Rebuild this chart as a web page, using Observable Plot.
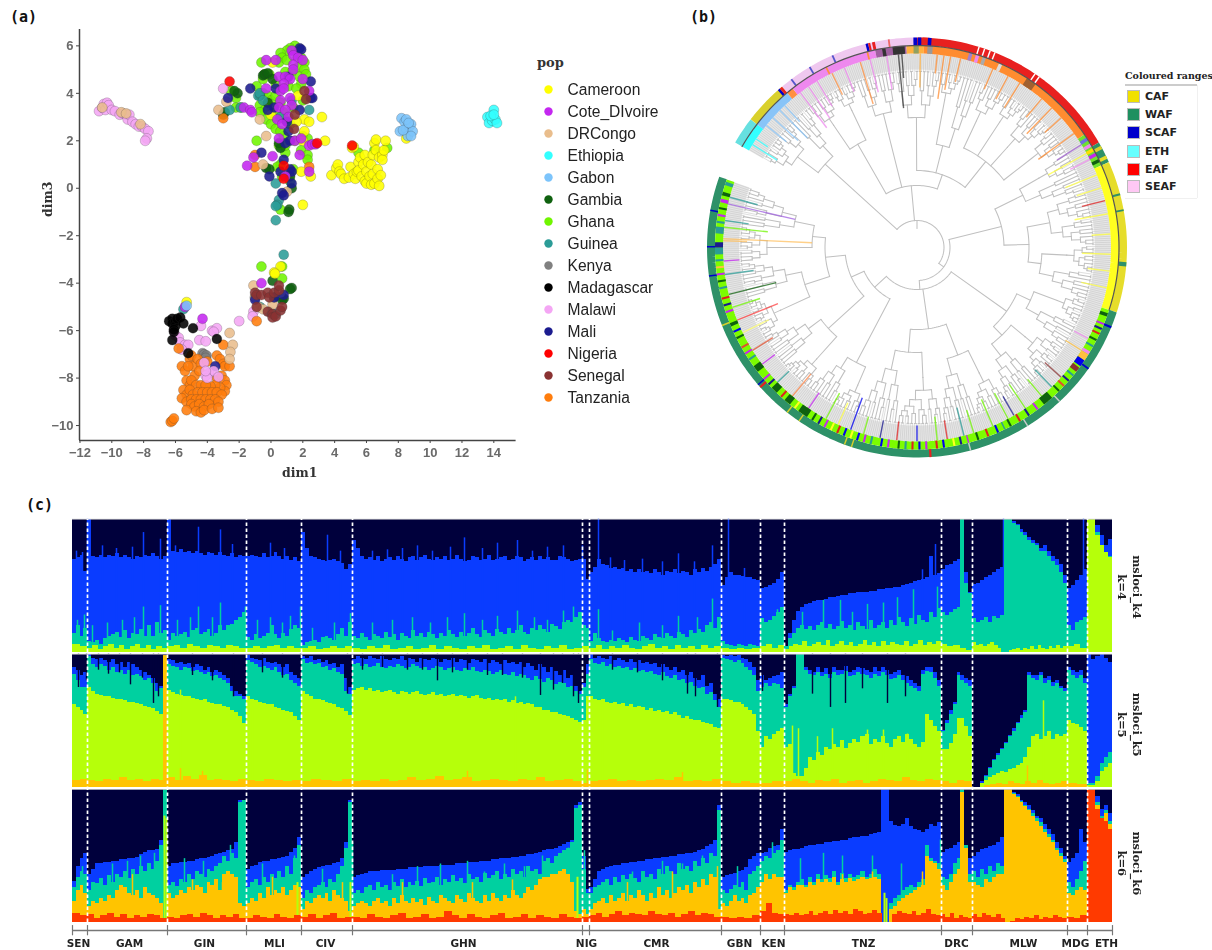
<!DOCTYPE html>
<html><head><meta charset="utf-8">
<script src="https://cdn.jsdelivr.net/npm/d3@7"></script>
<script src="https://cdn.jsdelivr.net/npm/@observablehq/plot@0.6"></script>
<style>
html,body{margin:0;padding:0;background:#fff;overflow:hidden}
#page{position:relative;width:1212px;height:950px;overflow:hidden}
.abs{position:absolute}
.tag{font:bold 15px "DejaVu Sans Mono",monospace;color:#111}
.lg{font:bold 11px "DejaVu Sans",sans-serif;color:#222;position:absolute}
.sw{position:absolute;width:13px;height:13px;border:1px solid #bbb;box-sizing:border-box}
svg{filter:blur(.4px)}
</style></head><body><div id="page"></div>
<script>
/* ---------- panel (a) values: [dim1, dim3] ---------- */
const popNames=["Cameroon","Cote_DIvoire","DRCongo","Ethiopia","Gabon","Gambia","Ghana","Guinea","Kenya","Madagascar","Malawi","Mali","Nigeria","Senegal","Tanzania"];
const popColors=["#ffff00","#c427f0","#e9bd8c","#33ffff","#7cc4fb","#0f610f","#70f500","#2b9c97","#808080","#000000","#f4a6f4","#1b1b8f","#ff0000","#8a3232","#ff7d0d"];
const ghana=[[1.5,6],[1.2,5.9],[1,5.8],[.6,5.7],[.7,5.5],[.5,5.3],[-.6,5.3],[1,5.4],[1.9,5.5],[2.1,5.3],[1.7,5.1],[2.1,5],[1.8,4.7],[1.3,4.9],[.9,4.9],[-.4,4.8],[-.5,4.6],[-.1,4.8],[-.9,4.3],[.3,4.4],[1.1,4.3],[1.9,4.4],[-.5,4],[-.2,3.9],[0,3.7],[.3,3.9],[.6,3.6],[-.7,3.5],[-.4,3.3],[-2.2,3.8],[-2.5,4.1],[-2.2,3.4],[-1.9,3.4],[.8,3.2],[1.4,3.4],[2,3.7],[-.3,2.9],[0,2.7],[.3,2.5],[.8,2.2],[1.2,2.7],[2,2.2],[2.3,2.1],[-.9,2],[.5,1.8],[.9,1.5],[1.9,1.6],[2.3,1.4],[2.3,1.2],[.6,1],[1.4,.8],[1.2,.3],[.6,-.9],[.7,-3.3],[.7,-3.8],[-.6,-3.3],[6.5,1.6],[7.3,1.7],[5.5,1.5],[.7,.5],[.1,3.4],[.9,2.9],[-.7,3.2],[1.5,2],[.6,2.4],[.9,1.8],[.4,.9],[.3,3],[1.6,4.2],[2.2,4.8]];
const gambia=[[-.5,4.75],[-.4,4.8],[-.2,4.85],[.1,4.6],[-.7,3.9],[-2.1,4],[-2.3,4.1],[-3,3.1],[-2.9,3.2],[-.2,3.6],[.5,1.9],[.6,1.7],[-.3,.85],[-.1,.8],[1.3,0],[1.15,-.9],[1.1,-1],[.1,-3.9],[1.3,-4.2],[1.2,-4.25],[.7,-4.7],[.2,-4.6],[.8,-4.65],[1.2,.5]];
const guinea=[[-.8,3.9],[-.7,4],[-.5,3.7],[-2.6,3.3],[-1.9,3.4],[2.4,3.3],[1.3,3.7],[.6,3],[.3,.2],[.5,-.5],[.4,-.7],[.3,-.75],[.3,-1.35],[.8,-2.8],[-1,-4.6],[-.7,-5],[.3,-5.3],[-.1,-5.2],[-5.5,-5.1]];
const cameroon=[[3.8,.55],[4.1,.85],[4.2,1],[4.3,.7],[4.4,.6],[4.6,.4],[4.9,.45],[5,.9],[5.1,1.7],[5.2,1.75],[5.2,.6],[5.3,.4],[5.4,.7],[5.5,1.1],[5.5,.75],[5.6,1.3],[5.7,.5],[5.8,1],[5.9,.3],[5.9,1.4],[6,.7],[6,.2],[6.1,1.1],[6.2,.5],[6.3,1],[6.3,.15],[6.4,1.4],[6.4,.6],[6.5,1.9],[6.5,.2],[6.6,1.6],[6.6,2.05],[6.7,.8],[6.7,.4],[6.8,1.3],[6.8,.1],[6.9,.55],[7,1.4],[7,1.2],[7.1,1.6],[7.2,2],[.1,5.3],[0,3.1],[2.1,2.9],[2.4,2.8],[3.2,3],[3.4,2],[2,2],[1.9,.7],[2.5,.5],[1.6,2.8],[2.1,2.4],[2,-.7],[.6,-3.3],[.2,-3.55],[.25,-3.6],[-5.3,-4.8],[1.7,3.9],[8.5,2.1]];
const drc=[[-10.6,3.4],[-9.4,3.2],[-9.1,3.15],[-8.2,2.7],[-3.3,3.3],[-2.8,3.65],[-.7,2.9],[-.3,2.2],[-.5,1],[1,-.15],[-1.1,-4.1],[.6,-4.4],[-1,-4.6],[-.8,-5],[-.5,-5.1],[.1,-4.9],[-2.6,-6.1],[-2.4,-6.6],[-2.55,-6.9],[-2.6,-7.2]];
const mali=[[1.8,5.9],[1.9,5.85],[2.5,4.5],[-1.3,4.2],[.3,4.2],[2.5,3.8],[2.6,3.8],[-2.7,3.8],[.2,3.4],[-.2,3.3],[1.8,3.3],[1,2.8],[1.1,2.4],[1.2,2],[.9,1.9],[-.6,1.5],[.8,1.2],[1.2,.8],[.6,.7],[1.3,.7],[-.1,.5],[1.3,.2],[.7,-.2],[.8,-.3],[1.1,4.7],[-1,-4.7],[.8,-4.5],[-3.5,-7.5],[.2,-4.6]];
const cote=[[-.3,5.4],[.3,5.4],[1.3,5.8],[1.4,5.6],[1.7,5.5],[2,5.4],[1.4,5.2],[1.4,5],[.5,4.7],[.9,4.7],[1.2,4.6],[.8,4.4],[2,4.6],[-.3,4.2],[.6,4.1],[.8,4.2],[2.4,4.1],[.6,3.7],[1.2,3.8],[1.3,3.5],[.5,3.4],[.9,3.3],[1.1,3],[-1.7,3.4],[-1.3,3.3],[-1.2,3.2],[.4,2.9],[.7,2.7],[.5,2.1],[1.5,2],[1.9,2.1],[2.4,1.8],[2.6,1.85],[2.8,1.85],[-1.1,1.3],[.1,1.35],[1.8,1.4],[-1.5,.95],[.9,.5],[2.4,.7],[-4.3,-5.5],[-5.4,-5],[-.6,-4]];
const senegal=[[2.1,4.1],[2.2,3.75],[1.5,3.1],[1.45,2.5],[-1,-4.4],[-.9,-4.5],[-.6,-4.5],[-.2,-4.4],[-.1,-4.6],[.2,-4.4],[.5,-4.3],[.5,-4.1],[-.9,-5],[-.2,-5.2],[.1,-5.3],[.1,-5.45],[.3,-5.4],[.6,-5.15],[.7,-5]];
const madagascar=[[-6.4,-5.6],[-6.2,-5.5],[-6.2,-5.7],[-6,-5.6],[-6,-5.8],[-5.9,-5.5],[-5.7,-5.45],[-5.5,-5.7],[-6.1,-5.95],[-6.1,-6.05],[-6.2,-6.4],[-4.9,-5.9],[-3.4,-6.35],[-5.2,-6.95]];
const malawi=[[-10.8,3.25],[-10.6,3.4],[-10.5,3.55],[-10.4,3.3],[-10.3,3.6],[-10.2,3.5],[-10,3.3],[-9.8,3.25],[-9.5,3.1],[-9.3,3.15],[-9.1,3.1],[-9,2.9],[-8.9,3.1],[-8.7,2.8],[-8.5,2.7],[-8.3,2.6],[-8.1,2.6],[-7.9,2.5],[-7.7,2.4],[-7.8,2.1],[-7.9,2],[-3,4.2],[-6.1,-6],[-6,-6.2],[-5.8,-6.3],[-5.7,-6.5],[-5.4,-6.6],[-5.2,-6.6],[-5.6,-6.8],[-4.4,-5.8],[-4.5,-6.4],[-4.1,-6.45],[-3.7,-6],[-3.4,-5.9],[-3.6,-6.05],[-2,-5.6],[-1.1,-5.2],[-1.15,-5.4]];
const gabon=[[8.1,2.4],[8.2,2.95],[8.4,2.8],[8.5,2.5],[8.6,2.2],[8.7,2.6],[8.8,2.7],[8.9,2.4],[8.8,2.2],[8.5,2.9],[8.3,2.45],[8.65,2.75],[-5.3,-4.95]];
const ethiopia=[[13.6,3],[13.7,2.75],[13.9,2.85],[14,3.3],[14.1,2.9],[14.2,2.75],[13.8,3.05],[14,3.1]];
const kenya=[[-4.3,-6.95],[-4.2,-7],[-4.05,-7.05],[-4.1,-7.15]];
const nigeria=[[-2.6,4.5],[.8,.95],[2.9,1.9],[5.1,1.8],[.8,.4]];
const tanzania=[[-3,2.95],[-1,.9],[-1,1.4],[2.4,.9],[-.9,-5.6],[-3,-6.6],[-5.8,-6.75],[-5.1,-7.2],[-5,-7.05],[-4.9,-7.5],[-4.6,-7.2],[-4.4,-7.4],[-4,-7.3],[-3.4,-7.05],[-3.2,-7.2],[-3,-7.4],[-2.9,-7.5],[-2.6,-7.5],[-5.6,-7.5],[-5.4,-7.7],[-5.2,-7.5],[-4.8,-7.9],[-4.5,-7.7],[-5.3,-8.1],[-5.1,-8.3],[-5,-8.1],[-4.7,-8.3],[-4.4,-8.3],[-3.4,-8],[-3.1,-7.9],[-2.9,-8.1],[-2.8,-8.3],[-2.9,-8.55],[-3.2,-8.4],[-3.5,-8.3],[-3.8,-8.35],[-4.1,-8.3],[-5.5,-8.5],[-5.3,-8.7],[-5.1,-8.5],[-4.9,-8.7],[-4.6,-8.6],[-4.3,-8.6],[-4,-8.6],[-3.7,-8.6],[-3.4,-8.6],[-3.1,-8.7],[-5.6,-8.85],[-5.3,-9],[-5,-8.9],[-4.7,-8.9],[-4.4,-8.9],[-4.1,-8.9],[-3.8,-8.9],[-3.5,-8.9],[-3.3,-9],[-5,-9.1],[-4.8,-9.2],[-4.5,-9.1],[-4.2,-9.2],[-3.9,-9.1],[-5.3,-9.35],[-4.7,-9.4],[-4.4,-9.45],[-4.2,-9.35],[-3.7,-9.3],[-3.3,-9.25],[-6.3,-9.85],[-6.2,-9.8],[-6.1,-9.7]];
const malawiLate=[[-4.2,-7.35],[-3.9,-7.8],[-3.6,-7.7],[-4.1,-7.9],[-3.3,-7.95],[-4,-8],[-4.1,-7.7]];
const scatterOrder=[["Ghana",ghana],["Gambia",gambia],["Guinea",guinea],["Kenya",kenya],["Malawi",malawi],["Tanzania",tanzania],["Madagascar",madagascar],["Cameroon",cameroon],["DRCongo",drc],["Mali",mali],["Cote_DIvoire",cote],["Senegal",senegal],["Nigeria",nigeria],["Gabon",gabon],["Ethiopia",ethiopia],["Malawi",malawiLate]];

/* ---------- panel (b) values ---------- */
const treeSpec=[27,
 [124,[150,14,10],12],
 [62,[119,[148,16],[152,14]],[138,12,10],
   [77,[130,13,12],[105,[150,12],11],[110,[140,15],[150,12],[135,18],[145,15]]]],
 [33,
   [87,[118,[140,11],12],[112,[135,15,15],[125,[150,15],15]]],
   [42,
     [110,[125,[150,14],14],[122,[140,22],20]],
     [82,[115,[140,18],19],[105,[130,25],22]],
     [58,[130,[150,15],15],
       [72,[120,[150,18],19],
         [92,[118,[150,22],20],[105,[140,20],21]]]]]]];
const angleStart=-60, angleEnd=289.7;
const outerRanges=[[-60,-52.4,"#66e0e0"],[-52.4,-40,"#d9d02c"],[-40,0,"#efc8ef"],[0,60,"#e8201f"],[60,66,"#2e9168"],[66,108,"#e6dd2b"],[108,289.7,"#2e9168"]];
const outerMarks=[[-41.5,-40.8,"#0000cc"],[-40.8,-40,"#e8201f"],[-37,-36.5,"#5555cc"],[-31,-30.5,"#5555cc"],[-24,-23.5,"#5555cc"],[-14.2,-13.5,"#0000cc"],[-13.5,-12.9,"#e8201f"],[-12.4,-11.6,"#e8201f"],[-8,-7.5,"#ee6666"],[-1,0,"#0000cc"],[.2,1.2,"#0000cc"],[1.5,3,"#e8201f"],[3,4,"#0000cc"],[17,17.4,"#fff"],[18.6,19,"#fff"],[20.2,20.6,"#fff"],[21.6,22,"#fff"],[34,34.4,"#fff"],[35.4,35.8,"#fff"],[61,62,"#d9d02c"],[64,65,"#e6dd2b"],[75,75.6,"#2e9168"],[79.5,80,"#2e9168"],[94,95.2,"#2e9168"],[112,112.6,"#0000cc"],[125,125.5,"#0000cc"],[137,137.4,"#ccc"],[148,148.4,"#ccc"],[165,165.4,"#ccc"],[176,176.6,"#e8201f"],[198,198.4,"#d9d02c"],[200,200.4,"#d9d02c"],[214,214.4,"#d9d02c"],[218,218.4,"#d9d02c"],[228,228.6,"#e8201f"],[229,229.4,"#0000cc"],[248,248.4,"#d9d02c"],[262,262.4,"#0000cc"],[270,270.4,"#0000cc"],[280,280.4,"#0000cc"]];
const innerRanges=[[-60,-52.4,"#33ffff"],[-52.4,-40,"#88c4f8"],[-40,-38,"#ff9040"],[-38,-12,"#ee88ee"],[-12,-3,"#a060a0"],[-3,2,"#ffb040"],[2,56,"#ff8c30"],[56,66,"#70e030"],[66,108,"#ffff20"],[108,289.7,"#7cfc00"]];
const innerMarks=[[-27,-26.5,"#ff9040"],[-14.5,-14,"#ff9040"],[-10,-9,"#333"],[-7,-3.5,"#333"],[-1,.5,"#90a060"],[3,4.5,"#999"],[15,16,"#a080d0"],[17,18,"#ee88ee"],[19,20,"#aaa"],[24,25,"#ddd"],[33,36,"#a06030"],[57,58,"#7070e0"],[59,60,"#ee88ee"],[60.5,61.5,"#ffdd00"],[62,63,"#c427f0"],[64,65,"#0f610f"],[109,110,"#0f610f"],[112,112.6,"#c427f0"],[113.5,114.1,"#1b1b8f"],[115,115.6,"#e02020"],[117,117.6,"#0f610f"],[119,119.6,"#2b9c97"],[121,122,"#ee88ee"],[122,124,"#ffc040"],[124,126,"#0000ee"],[126.5,128,"#8a3232"],[129,129.6,"#2b9c97"],[131,131.6,"#1b1b8f"],[133,133.6,"#e05030"],[135,135.6,"#0f610f"],[138,141,"#0f610f"],[143,143.6,"#c427f0"],[146,146.6,"#1b1b8f"],[149,149.6,"#e02020"],[152,152.6,"#0f610f"],[154,154.4,"#2b9c97"],[156,156.6,"#0000ee"],[159,159.6,"#e02020"],[162,162.6,"#0f610f"],[165,165.4,"#c427f0"],[167,167.6,"#1b1b8f"],[169,169.6,"#ffff20"],[172,172.6,"#0000ee"],[174,174.6,"#e02020"],[177,177.6,"#c427f0"],[179,179.6,"#0000ee"],[181,181.6,"#e02020"],[183,183.6,"#2b9c97"],[185,185.6,"#0f610f"],[188,188.6,"#c427f0"],[190,190.6,"#0000ee"],[193,193.6,"#2b9c97"],[195,195.6,"#c427f0"],[197,197.6,"#0000ee"],[199,199.6,"#ffff20"],[201,201.6,"#0000ee"],[203,203.6,"#e02020"],[205,205.6,"#ffff20"],[207,207.6,"#c427f0"],[209,209.6,"#1b1b8f"],[211,211.6,"#0f610f"],[213,216,"#0f610f"],[217,217.6,"#ffff20"],[219,221,"#0f610f"],[222,222.6,"#e02020"],[224,226,"#0f610f"],[227,227.6,"#1b1b8f"],[229,229.6,"#c427f0"],[232,234,"#0f610f"],[236,236.6,"#2b9c97"],[238,238.6,"#c427f0"],[240,240.6,"#e05030"],[243,243.6,"#0f610f"],[245,245.6,"#0000ee"],[247,248,"#0f610f"],[251,251.6,"#c427f0"],[253,253.6,"#1b1b8f"],[255,255.6,"#e02020"],[258,258.6,"#2b9c97"],[260,260.6,"#0f610f"],[262,262.6,"#c427f0"],[264,264.6,"#ffc040"],[266,266.6,"#2b9c97"],[268,270,"#2b9c97"],[270,271.5,"#1b1b8f"],[274,276,"#2b9c97"],[277,277.6,"#2b9c97"],[279,279.6,"#c427f0"],[281,281.6,"#0f610f"],[283,284,"#c427f0"],[285,286,"#0f610f"],[288,289,"#2b9c97"]];
/* [angle, inner radius, colour] of coloured tip branches */
const colouredTips=[[-58,165,"#33ffff"],[-56,180,"#33ffff"],[-51,168,"#88c4f8"],[-48,160,"#88c4f8"],[-45,155,"#88c4f8"],[-43,172,"#88c4f8"],[-37,150,"#ee88ee"],[-34,156,"#ee88ee"],[-31,165,"#ee88ee"],[-26,170,"#ff9040"],[-22,168,"#ee88ee"],[-17,150,"#ff9040"],[-14,160,"#ee88ee"],[-9,160,"#ee88ee"],[-5.5,140,"#333"],[-4.5,170,"#333"],[1,160,"#ffb040"],[6,175,"#ff8c30"],[8,150,"#ff8c30"],[10,160,"#ff8c30"],[13,170,"#ff8c30"],[23,172,"#ff8c30"],[28,168,"#ff8c30"],[32,165,"#ff8c30"],[40,170,"#ff8c30"],[44,158,"#ff8c30"],[48,172,"#ff8c30"],[54,150,"#ff8c30"],[58,165,"#a060d0"],[61,150,"#ffff40"],[63,172,"#ee88ee"],[68,160,"#ffff40"],[72,168,"#ffff40"],[76,170,"#e02020"],[80,160,"#ffff40"],[86,175,"#ffff40"],[92,165,"#ffff40"],[97,172,"#ffff40"],[102,168,"#ffff40"],[118,178,"#ee88ee"],[122,175,"#ffc040"],[132,172,"#8a3232"],[136,170,"#2b9c97"],[140,172,"#70f500"],[146,165,"#70f500"],[150,172,"#1b1b8f"],[152,165,"#70f500"],[157,165,"#70f500"],[163,170,"#70f500"],[166,165,"#2b9c97"],[171,175,"#e02020"],[174,170,"#70f500"],[180,178,"#0000ee"],[186,175,"#e02020"],[191,176,"#1b1b8f"],[196,176,"#70f500"],[200,160,"#0000ee"],[204,170,"#ffff40"],[208,165,"#70f500"],[214,175,"#c427f0"],[220,165,"#ff8040"],[226,178,"#2b9c97"],[233,178,"#c427f0"],[238,170,"#e05030"],[244,165,"#ffff70"],[248,150,"#ff4040"],[252,165,"#70f500"],[256,145,"#0f610f"],[262,165,"#2b9c97"],[266,178,"#c427f0"],[272,170,"#ffc060"],[272.6,105,"#ffc060"],[276,150,"#70f500"],[278,170,"#2b9c97"],[283,125,"#a060e0"],[285,165,"#2b9c97"]];

/* ---------- panel (c) values: percent of bar height, one list per population ---------- */
const stackPops=["SEN","GAM","GIN","MLI","CIV","GHN","NIG","CMR","GBN","KEN","TNZ","DRC","MLW","MDG","ETH"];
const stackWidths=[15,80,79,55,51,230,7,132,39,24,157,31,95,20,25];
const stackLabelAt=[6,57,132,202,253,391,514,584,667,701,791,884,951,1003,1034];
const clusterColors={navy:"#00003c",blue:"#0a3cff",teal:"#00d0a0",lime:"#b6ff0a",orange:"#ffc400",red:"#ff3a00"};
const k4Blue=[[70,71,73,61],[100,72,71,73,71,73,72,74,71,73,71,70,72,71,73,72,74,72,70,72],[100,76,75,77,75,76,74,76,74,73,75,74,73,75,73,72,74,71,73,72],[72,73,72,71,74,71,72,75,72,70,72,69,71,68],[90,78,72,71,70,69,68,69,70,68,67,62,66],[84,78,72,70,71,69,72,68,70,71,69,72,70,68,71,72,69,71,73,70,69,71,70,72,69,70,73,70,68,69,72,71,69,70,73,69,70,71,72,69,70,72,71,68,70,71,69,72,70,71,69,69,72,71,70,68,69,70],[70,55],[60,64,70,66,65,63,64,62,63,61,62,60,62,60,61,59,62,60,58,61,60,62,59,61,60,58,62,60,63,61,64,66,70],[50,56,60,58,58,57,56,56,55,54],[48,49,50,52,55,60],[4,14,24,31,34,36,37,38,39,39,40,41,41,42,43,43,44,44,45,45,45,46,46,47,47,48,48,49,49,50,51,52,53,54,55,56,72,58,59],[62,65,66,68,70,100,60,45],[51,52,54,56,58,60,62,64,100,100,98,96,92,90,86,84,82,78,80,76,72,70,66,58],[48,50,54,58,62],[100,100,95,88,80,85]];
const k4Teal=[[14,20,12,18],[8,7,9,6,10,12,13,15,11,16,10,14,13,17,12,20,12,22,14,16],[9,14,12,13,15,11,16,18,13,15,17,12,14,20,16,20,21,24,26,30],[11,9,13,10,12,14,20,13,10,14,12,17,20,18],[5,7,8,9,7,11,12,10,9,13,18,12,22],[12,10,14,11,9,13,12,10,15,11,13,9,14,12,10,16,12,14,11,15,13,10,14,12,16,13,11,15,12,14,18,13,11,16,14,12,17,15,13,18,14,16,20,15,13,18,16,20,17,15,21,19,17,22,24,22,26,30],[20,18],[8,14,10,8,7,9,8,10,9,7,11,9,8,12,10,9,13,11,10,14,12,10,15,13,11,16,14,17,15,20,22,18,26],[8,6,5,4,6,5,4,6,5,4],[25,22,24,27,30,34],[4,10,14,18,20,17,19,16,20,22,18,21,17,19,23,18,20,16,22,19,17,24,18,20,22,18,24,20,26,22,19,25,21,28,24,22,30,26,33],[30,28,30,32,34,100,52,44],[25,22,24,26,22,27,25,28,100,100,97,95,90,88,84,82,80,76,76,72,68,65,60,52],[20,16,22,24,26],[100,100,90,80,75,72]];
const k4Lime=[[6,4],[3,5,2,4,6,3,5,2,4,6,3,5,2,4,3],[4,5,3,6,4,3,5,4,3,5,4,3],[3,4,3,4,5,3,4,3],[3,4,2,3,4,3,4],[3,2,4,3,5,2,3,4,2,3,5,2,4,3,2,4,3,5,2,3,4,2,5,3,2,4,3,5,2,3],[4],[3,5,2,4,3,5,3,2,4,6,3,4,2,5,3,4,2,5,3,4],[3,2,3,2,3],[4,6,3,5],[2,4,6,5,8,4,6,7,5,9,4,6,8,5,7,4,6,9,5,7,4,8,5,7,6,5,8,4,6,9,5,7,6,8],[6,4,5,3,1],[7,5,6,4,6,7,5,3,0,0,1,2,3,1,3,2,4,2,5,3,2,4,3,5,3,4],[4,6,3],[100,100,88,80,75,71]];
const k5Blue=[[90,88,84,86],[100,97,96,97,95,94,96,92,94,90,94,92,90,88,86,84,82,78,76,99],[96,95,93,94,92,93,90,92,91,88,90,86,88,86,84,82,76,72,70,68],[99,97,96,95,97,94,93,94,92,90,92,86,84,82],[98,97,98,95,96,94,95,92,93,90,92,82,75],[96,98,97,96,98,97,96,98,96,95,97,96,98,95,97,96,94,97,96,95,97,96,94,96,95,97,94,96,95,93,96,95,94,96,93,95,94,92,95,93,94,92,94,90,93,91,88,92,90,86,90,87,84,88,82,84,76,72],[78,92],[100,97,98,97,96,98,95,97,95,94,96,94,95,93,94,92,93,90,92,90,88,90,86,88,84,86,82,80,84,76,78,70,66],[99,98,99,98,99,97,96,94,90,80],[84,80,82,83,84,86],[62,70,76,100,100,90,88,86,90,86,89,85,90,88,88,91,86,88,90,89,88,86,90,87,90,88,85,86,88,84,83,80,78,76,88,90,90,86,80],[43,50,58,64,86,84,82,80],[0,0,4,9,15,21,25,29,34,39,44,49,54,58,86,84,84,86,82,83,79,80,76,74],[90,88,86,88,82],[100,96,98,100,97,94]];
const k5Teal=[[85,80,75,75],[98,92,90,92,91,88,90,86,88,85,88,84,85,83,80,82,78,72,74,70],[92,91,90,88,90,89,87,88,86,85,86,83,84,82,80,78,72,68,68,66],[95,94,92,90,91,89,88,90,86,84,85,80,78,76],[96,93,94,92,93,90,91,88,89,86,85,72,70],[92,93,91,92,90,91,93,90,89,91,90,92,91,89,90,92,91,89,90,88,89,91,90,88,89,90,88,87,89,88,90,87,86,88,87,85,86,88,85,84,86,83,85,84,82,80,83,81,79,82,80,77,79,78,75,76,72,70],[75,85],[96,93,92,94,91,92,90,91,89,90,88,89,87,88,86,87,85,84,86,83,82,84,80,81,78,79,76,74,75,70,71,65,60],[97,96,95,94,95,93,90,88,84,72],[75,78,76,78,77,74],[60,68,74,100,100,88,85,84,86,83,85,82,86,84,85,87,83,84,86,85,84,82,85,83,86,84,81,82,84,80,78,76,74,72,85,87,86,82,76],[42,48,55,62,84,80,78,76],[0,0,3,8,14,20,24,28,33,38,42,48,52,56,84,82,80,84,78,80,76,78,74,72],[88,84,82,84,78],[3,3,8,18,22,26]];
const k5Lime=[[62,60,58,55],[75,72,70,69,68,68,67,66,66,65,64,64,63,62,61,60,59,57,55,50],[73,71,70,69,68,68,67,66,65,66,64,63,62,62,61,60,58,56,53,48],[68,66,65,64,63,62,62,60,59,58,57,56,53,50],[72,70,68,66,66,65,64,63,62,60,59,57,54],[73,74,75,73,74,72,73,71,72,73,71,70,72,71,70,71,72,70,69,70,71,69,70,68,69,70,68,69,68,67,68,69,67,66,67,65,66,65,66,64,65,63,64,62,63,62,60,60,58,58,56,56,55,54,53,52,50,49],[50,68],[68,66,65,66,64,63,64,62,63,61,62,60,61,60,58,59,57,58,56,57,55,56,54,52,53,51,50,50,49,48,47,45,44],[66,66,65,64,64,62,60,58,55,42],[30,38,36,40,42,44],[30,32,10,8,8,14,22,20,26,24,30,28,32,30,35,29,33,36,34,38,40,32,36,34,38,33,30,36,38,34,40,36,32,30,34,55,50,46,42],[28,28,33,40,52,52,46,38],[0,0,3,5,7,9,10,12,11,13,14,16,18,22,30,38,40,36,38,42,36,40,38,40],[50,48,47,45,42],[1,1,4,12,15,18]];
const k5Orange=[[5,6],[5,4,6,5,7,5,6,4,6,5],[7,5,8,6,9,5,6,5,4,6],[5,4,6,5,4,5],[4,6,5,4,6],[4,5,4,6,4,5,7,5,6,8,5,6,7,4,5,6,5,4,6,5,7,4,5,6,4],[3],[4,5,6,4,5,4,5,6,5,7,4,5,4,6],[4,3,4,3],[3,4],[4,6,4,3,5,4,6,3,4,5,3,4,6,5,4,7,5,4,6,5],[4,3,5,4],[0,0,1,2,3,2,4,3,2,4,3,5,3,2,3,4],[3,2],[0,0]];
const k6Blue=[[31,42,48,52],[36,40,44,44,45,45,46,46,47,47,48,48,49,51,53,54,54,55,62,100],[42,44,44,45,45,46,46,47,48,48,49,50,51,52,53,54,55,60,92,92],[40,42,43,45,46,46,47,47,48,49,50,53,56,64],[34,36,38,40,41,42,43,43,44,45,48,60,92],[34,35,36,37,38,38,38,39,39,39,39,40,40,40,41,41,41,41,42,42,42,42,43,43,43,43,44,44,44,45,45,45,46,46,46,47,47,48,48,48,49,49,50,50,51,51,52,53,54,55,55,56,57,59,60,62,88,90],[50,25],[26,32,38,40,41,42,43,43,44,44,45,45,46,46,47,47,48,48,49,49,50,50,51,51,52,52,53,54,55,57,59,62,88],[34,35,36,37,38,39,41,47,50,52],[52,53,56,57,58,70],[53,54,55,55,56,57,58,58,59,59,60,60,61,61,62,62,63,64,64,65,65,66,67,68,100,100,76,73,72,74,78,72,70,69,68,70,74,72,75],[53,55,56,58,60,100,55,48],[50,53,55,56,57,58,60,64,100,100,98,96,92,90,88,84,80,78,74,70,66,60,56,50],[45,48,52,70,60],[100,100,95,85,88,82]];
const k6Teal=[[26,34,38,36],[24,30,29,33,28,35,30,36,34,38,33,40,36,42,38,44,40,46,58,100],[28,30,27,32,30,36,32,38,36,34,40,38,42,44,50,46,52,48,90,92],[26,30,32,28,34,30,36,33,38,34,42,36,48,58],[18,24,22,26,28,30,26,32,30,36,42,56,90],[22,24,22,26,28,24,30,26,28,24,30,27,32,26,30,28,31,27,33,29,30,34,28,32,30,35,31,33,29,36,32,34,30,37,33,35,38,32,36,34,40,36,38,34,42,38,40,36,46,48,44,50,52,54,56,60,86,88],[40,22],[22,26,28,30,32,28,34,30,35,32,36,33,30,38,34,36,32,40,36,42,38,36,44,40,42,38,46,42,48,44,52,50,84],[24,22,25,28,26,30,24,36,38,42],[46,50,48,52,54,62],[24,28,26,30,32,28,34,30,36,32,35,33,38,30,37,33,36,34,35,38,34,36,40,36,0,0,14,18,20,24,26,28,26,30,32,58,48,46,44],[34,32,36,44,48,100,58,36],[38,34,40,36,42,38,44,42,100,100,97,95,91,88,85,82,78,75,70,66,62,56,52,47],[30,26,32,38,46],[100,100,90,80,84,76]];
const k6Orange=[[16,24,28,22],[12,16,14,18,16,20,18,24,28,26,22,20,24,18,26,22,20,18,14,0],[22,18,20,24,22,26,24,28,26,22,30,28,32,24,36,38,36,34,14,12],[14,18,16,22,18,26,20,24,22,26,20,24,28,26],[10,16,14,18,20,18,22,16,24,20,18,16,8],[12,14,16,14,12,16,18,14,16,12,18,14,20,16,14,18,15,17,13,19,16,14,20,18,16,14,20,17,15,22,18,16,14,20,16,22,18,16,20,18,24,20,18,22,26,24,28,32,34,34,36,36,38,40,36,30,8,6],[10,6],[10,14,16,18,14,20,16,18,22,16,20,18,24,20,16,22,18,26,20,24,18,22,26,24,28,22,30,26,32,28,36,34,10],[14,12,16,20,16,18,14,20,22,26],[30,36,32,36,34,34],[22,26,24,28,28,26,30,28,32,30,32,30,34,28,32,30,33,31,32,34,32,33,34,32,0,0,10,12,16,18,20,22,24,26,28,50,46,44,40],[28,24,30,36,40,98,56,30],[30,28,26,32,30,34,36,36,100,100,96,94,90,87,84,80,76,72,68,64,60,54,50,45],[22,20,24,26,24],[100,100,88,78,82,74]];
const k6Red=[[7,5],[6,3,5,7,4,6,3,5,4,6,5,3],[4,3,5,6,4,7,5,3,5,4,6,3],[3,5,4,3,6,4,3,5],[4,6,3,5,7,3,4],[4,3,6,4,3,5,7,3,4,6,3,4,8,5,3,6,4,3,5,7,3,4,6,3,5,4,3,6,4,3],[4],[5,7,4,6,8,5,7,6,5,8,6,5,7,4,6,8,5,7,6,4],[4,3,4,3,5],[8,14,7,6],[6,5,7,5,6,8,5,7,8,6,9,7,8,6,10,8,6,7,9,7,0,0,6,8,7,6,8,5,7,10,6,5],[6,4,7,3,5,4,3],[6,4,7,5,4,6,3,0,1,3,2,4,3,5,2,4,3,5,4,3],[4,3,5],[100,100,85,78,76,70]];
/* thin single-sample spikes: [position along the axis, percent] */
const k4BlueSpikes=[[4,76],[10,75],[15,100],[30,80],[44,78],[60,79],[71,90],[88,85],[103,80],[126,94],[148,92],[160,81],[198,82],[212,78],[235,77],[255,88],[268,76],[285,75],[300,76],[315,77],[330,78],[345,80],[360,76],[378,79],[392,86],[410,78],[425,82],[445,84],[460,76],[475,79],[491,80],[510,80],[526,100],[538,71],[552,69],[570,70],[590,68],[606,74],[622,68],[640,80],[656,100],[672,63],[850,62],[863,81],[931,100],[1011,100]];
const k4TealSpikes=[[5,24],[12,28],[20,20],[35,22],[50,24],[62,26],[71,34],[88,35],[105,24],[118,26],[126,34],[140,26],[148,37],[173,34],[185,24],[198,26],[210,22],[218,27],[228,34],[240,18],[262,22],[278,29],[300,22],[320,24],[340,26],[358,22],[375,26],[392,29],[410,24],[425,27],[445,31],[462,26],[475,24],[491,31],[501,34],[526,32],[540,16],[567,22],[590,20],[606,27],[625,26],[640,40],[705,32],[730,30],[751,39],[768,39],[780,30],[795,36],[811,37],[825,41],[841,47],[865,49]];
const k5Dips=[[6,75],[14,80],[26,88],[36,85],[47,86],[58,77],[70,82],[81,63],[86,68],[120,84],[140,80],[161,68],[190,86],[210,82],[228,80],[275,70],[290,88],[310,90],[335,88],[350,88],[365,80],[380,86],[395,88],[415,84],[430,84],[450,82],[468,69],[481,73],[490,78],[501,68],[506,63],[540,88],[565,86],[590,80],[615,70],[623,68],[645,60],[690,72],[740,70],[758,60],[773,63],[790,74],[815,63],[833,68]];
const k5LimeSpikes=[[108,73],[180,60],[443,68],[530,66],[795,43],[811,43],[835,40],[971,65],[720,46],[726,44],[745,38],[760,44]];
const k5OrangeSpikes=[[108,14],[130,12],[395,12],[515,13],[610,11],[955,16]];
const k5OrangeWide=[[92.5,99]];
const k6TealSpikes=[[10,42],[40,44],[55,46],[68,50],[82,52],[112,48],[131,46],[158,58],[190,44],[222,50],[250,40],[280,60],[320,36],[345,42],[368,44],[395,46],[412,38],[432,44],[452,42],[470,50],[496,56],[512,54],[560,38],[590,46],[610,44],[630,50],[665,42],[700,60],[728,48],[751,52],[770,50],[800,50],[829,44],[855,34],[868,62],[885,44]];
const k6OrangeSpikes=[[60,36],[120,32],[150,30],[200,34],[270,30],[330,30],[400,30],[440,32],[555,30],[600,38],[645,42],[770,36],[800,38],[850,38]];
const k6LimeSpikes=[[92,80],[94,78],[225,30],[278,30],[505,34],[812,22],[814,18]];

/* ---------- build ---------- */
const page=document.getElementById("page");
function place(node,left,top){node.style.position="absolute";node.style.left=left+"px";node.style.top=top+"px";page.appendChild(node);return node;}
function html(cls,txt,l,t,extra){const d=document.createElement("div");d.className=cls;d.textContent=txt;if(extra)d.style.cssText=extra;d.style.left=l+"px";d.style.top=t+"px";d.style.position="absolute";page.appendChild(d);return d;}

/* panel (a) */
const pts=scatterOrder.flatMap(([p,a])=>a.map(([x,y])=>({p,x,y})));
const tickFont={fontFamily:"Liberation Sans",fontSize:13,fontWeight:700,fill:"#6a6a6a",stroke:"#444"};
place(Plot.plot({width:540,height:490,marginLeft:79,marginRight:24.4,marginTop:29,marginBottom:50,
  x:{domain:[-12.03,15.4]},y:{domain:[-10.63,6.69]},
  color:{domain:popNames,range:popColors},style:{background:"transparent",overflow:"visible"},
  marks:[
    Plot.axisX({ticks:d3.range(-12,15,2),tickSize:3,tickPadding:4,label:null,...tickFont,strokeWidth:1}),
    Plot.axisY({ticks:d3.range(-10,7,2),tickSize:3,tickPadding:3,label:null,...tickFont,strokeWidth:1}),
    Plot.ruleX([-12.03],{stroke:"#444",strokeWidth:1.5}),
    Plot.ruleY([-10.63],{stroke:"#444",strokeWidth:1.5}),
    Plot.dot(pts,{x:"x",y:"y",fill:"p",r:5,fillOpacity:.88,stroke:"#333",strokeOpacity:.22,strokeWidth:1}),
    Plot.text(["dim1"],{frameAnchor:"bottom",dx:2,dy:36,fontFamily:"DejaVu Serif",fontWeight:700,fontSize:12.5,fill:"#333"}),
    Plot.text(["dim3"],{frameAnchor:"left",dx:-32,dy:-18,rotate:-90,fontFamily:"DejaVu Serif",fontWeight:700,fontSize:12.5,fill:"#333"})
  ]}),0,0);
html("tag","(a)",10,8);
html("abs","pop",537,55,"font:bold 13px 'DejaVu Serif',serif;color:#333");
place(Plot.plot({width:160,height:350,margin:0,x:{domain:[0,1],range:[18,37]},
  y:{type:"point",domain:popNames,range:[17.7,329],padding:0},color:{domain:popNames,range:popColors},axis:null,style:{background:"transparent"},
  marks:[Plot.dot(popNames,{x:()=>0,y:d=>d,fill:d=>d,r:4.2}),
    Plot.text(popNames,{x:()=>1,y:d=>d,text:d=>d,textAnchor:"start",fontFamily:"Liberation Sans",fontSize:15.6,fill:"#222"})]}),530,70);

/* panel (b) */
const rTip=194;
const leafCount=(function c(n){return typeof n==="number"?n:n.slice(1).reduce((s,k)=>s+c(k),0);})(treeSpec);
const step=(angleEnd-angleStart)/leafCount;
const lines=[],tipLines=[];let leaf=0,lid=0;
const arcPts=(a1,a2,r)=>{const n=Math.max(1,Math.ceil(Math.abs(a2-a1)/1.5));return d3.range(n+1).map(i=>[a1+(a2-a1)*i/n,r]);};
function pol([a,r]){const t=a*Math.PI/180;return [r*Math.sin(t),r*Math.cos(t)];}
function addLine(p,target=lines){const id=lid++;p.forEach(q=>{const [x,y]=pol(q);target.push({id,x,y});});}
function comb(n,r,flip){
  if(n===1){const a=angleStart+(leaf++ +.5)*step;return {a,r:rTip};}
  const nr=n<=2?Math.max(r+3,176):r+Math.max(3,(176-r)*(n>6?.28:.42));
  const k=Math.max(1,Math.ceil(n*.32));
  const parts=flip?[n-k,k]:[k,n-k];
  const kids=parts.map((m,i)=>comb(m,nr,i===0?!flip:flip));
  return join(nr,kids);
}
function join(r,kids){
  kids.forEach(k=>addLine([[k.a,r],[k.a,k.r]],k.r===rTip?tipLines:lines));
  addLine(arcPts(kids[0].a,kids[kids.length-1].a,r));
  return {a:(kids[0].a+kids[kids.length-1].a)/2,r};
}
function walk(node,pr){
  if(typeof node==="number") return comb(node,pr,false);
  const r=node[0];
  return join(r,node.slice(1).map(k=>walk(k,r)));
}
walk(treeSpec,18);
addLine([[0,19],[0,27]]);
const bandPts=[];let bid=0;
function band(list,r){list.forEach(([a1,a2,c])=>{const id=bid++;arcPts(a1,a2,r).forEach(q=>{const [x,y]=pol(q);bandPts.push({id,x,y,c});});});}
band(outerRanges,206);band(outerMarks,206);band(innerRanges,198);band(innerMarks,198);
const zone=arcPts(angleStart,angleEnd,186).map(q=>{const [x,y]=pol(q);return {x,y};});
const tipSeg=colouredTips.map(([a,r,c])=>{const [x1,y1]=pol([a,r]);const [x2,y2]=pol([a,194]);return {x1,y1,x2,y2,c};});
const ringLine=arcPts(-60,108,202).map(q=>{const [x,y]=pol(q);return {x,y};});
place(Plot.plot({width:460,height:460,margin:0,x:{domain:[-226.5,233.5],range:[0,460]},y:{domain:[-233,227],range:[460,0]},axis:null,color:{type:"identity"},style:{background:"transparent"},
  marks:[
    Plot.line(zone,{x:"x",y:"y",stroke:"#e6e6e6",strokeWidth:16,strokeLinecap:"butt"}),
    Plot.line(tipLines,{x:"x",y:"y",z:"id",stroke:"#c8c8c8",strokeWidth:.6}),
    Plot.line(lines,{x:"x",y:"y",z:"id",stroke:"#c0c0c0",strokeWidth:1.05}),
    Plot.link(tipSeg,{x1:"x1",y1:"y1",x2:"x2",y2:"y2",stroke:"c",strokeWidth:1.4,strokeOpacity:.75}),
    Plot.line(bandPts,{x:"x",y:"y",z:"id",stroke:"c",strokeWidth:8,strokeLinecap:"butt",strokeLinejoin:"miter"}),
    Plot.line(ringLine,{x:"x",y:"y",stroke:"#555",strokeWidth:1.2})
  ]}),690,20);
html("tag","(b)",690,8);
html("abs","Coloured ranges",1125,70,"font:bold 9.5px 'DejaVu Serif',serif;color:#222;white-space:nowrap");
html("abs","",1125,84,"width:72px;height:1.5px;background:#ccc");
html("abs","",1197,85,"width:1px;height:113px;background:#f0f0f0");
html("abs","",1125,198,"width:72px;height:1px;background:#f0f0f0");
const rangeNames=["CAF","WAF","SCAF","ETH","EAF","SEAF"];
const rangeColors=["#f0e000","#1f9060","#0000cc","#66ffff","#ff0000","#ffc8f4"];
const rangeRows=[90,108,126,145,163,180];
rangeNames.forEach((n,i)=>{const s=html("sw","",1127,rangeRows[i]);s.style.background=rangeColors[i];html("lg",n,1145,rangeRows[i]);});

/* panel (c) */
const rowOffset={k4:203.2,k5:101.7,k6:0};
const edges=d3.cumsum([0,...stackWidths]);
function bars(row,list){const o=rowOffset[row];return list.flatMap((vals,p)=>{const w=stackWidths[p]/vals.length;return vals.map((v,i)=>({x1:edges[p]+i*w,x2:edges[p]+(i+1)*w,y1:o,y2:o+v}));});}
const C=clusterColors;
const opts=c=>({x1:"x1",x2:"x2",y1:"y1",y2:"y2",fill:c,shapeRendering:"crispEdges"});
function layer(row,list,c,spikes,sw=1.5){const o=rowOffset[row];const m=[Plot.rect(bars(row,list),opts(c))];
  if(spikes)m.push(Plot.ruleX(spikes,{x:d=>d[0],y1:o,y2:d=>o+d[1],stroke:c,strokeWidth:sw}));return m;}
const background=Object.keys(rowOffset).map(r=>Plot.rect([{x1:0,x2:1040,y1:rowOffset[r],y2:rowOffset[r]+100}],opts(C.navy)));
const rowLabels=[["k4","msloci_k4","k=4",-1],["k5","msloci_k5","k=5",-3],["k6","msloci_k6","k=6",-5.5]];
place(Plot.plot({width:1212,height:440,marginLeft:72,marginRight:100,marginTop:8,marginBottom:28,
  x:{domain:[0,1040]},y:{domain:[0,303.76]},axis:null,color:{type:"identity"},style:{background:"transparent",overflow:"visible"},
  marks:[
    ...background,
    ...layer("k4",k4Blue,C.blue,k4BlueSpikes),...layer("k4",k4Teal,C.teal,k4TealSpikes),...layer("k4",k4Lime,C.lime),
    ...layer("k5",k5Blue,C.blue),...layer("k5",k5Teal,C.teal),
    Plot.ruleX(k5Dips,{x:d=>d[0],y1:d=>rowOffset.k5+d[1],y2:rowOffset.k5+100,stroke:C.navy,strokeWidth:1.4}),
    ...layer("k5",k5Lime,C.lime,k5LimeSpikes),...layer("k5",k5Orange,C.orange,k5OrangeSpikes),
    Plot.ruleX(k5OrangeWide,{x:d=>d[0],y1:rowOffset.k5,y2:d=>rowOffset.k5+d[1],stroke:C.orange,strokeWidth:4}),
    ...layer("k6",k6Blue,C.blue),...layer("k6",k6Teal,C.teal,k6TealSpikes),...layer("k6",k6Orange,C.orange,k6OrangeSpikes),
    Plot.ruleX(k6LimeSpikes,{x:d=>d[0],y1:0,y2:d=>d[1],stroke:C.lime,strokeWidth:2}),
    ...layer("k6",k6Red,C.red),
    Plot.ruleY(Object.values(rowOffset),{y:d=>d+100,x1:0,x2:1040,stroke:"#c9c9c9",strokeWidth:.8}),
    Plot.ruleX(edges.slice(1,-1),{y1:0,y2:303.3,stroke:"#fff",strokeWidth:1.7,strokeDasharray:"3.4,2.6"}),
    Plot.ruleY([-6],{x1:0,x2:1040,stroke:"#777",strokeWidth:1.4}),
    Plot.ruleX(edges,{y1:-2.3,y2:-10,stroke:"#777",strokeWidth:1.2}),
    Plot.text(stackPops,{x:(d,i)=>stackLabelAt[i],y:-16,text:d=>d,fontFamily:"DejaVu Sans",fontWeight:700,fontSize:10.5,fill:"#222"}),
    Plot.text(rowLabels,{x:1040,dx:24,y:d=>rowOffset[d[0]]+50+d[3],text:d=>d[1],rotate:90,fontFamily:"DejaVu Serif",fontWeight:700,fontSize:11.5,fill:"#222"}),
    Plot.text(rowLabels,{x:1040,dx:9,y:d=>rowOffset[d[0]]+50+d[3],text:d=>d[2],rotate:90,fontFamily:"DejaVu Serif",fontWeight:700,fontSize:11.5,fill:"#222"})
  ]}),0,510);
html("tag","(c)",26,496);
</script></body></html>
